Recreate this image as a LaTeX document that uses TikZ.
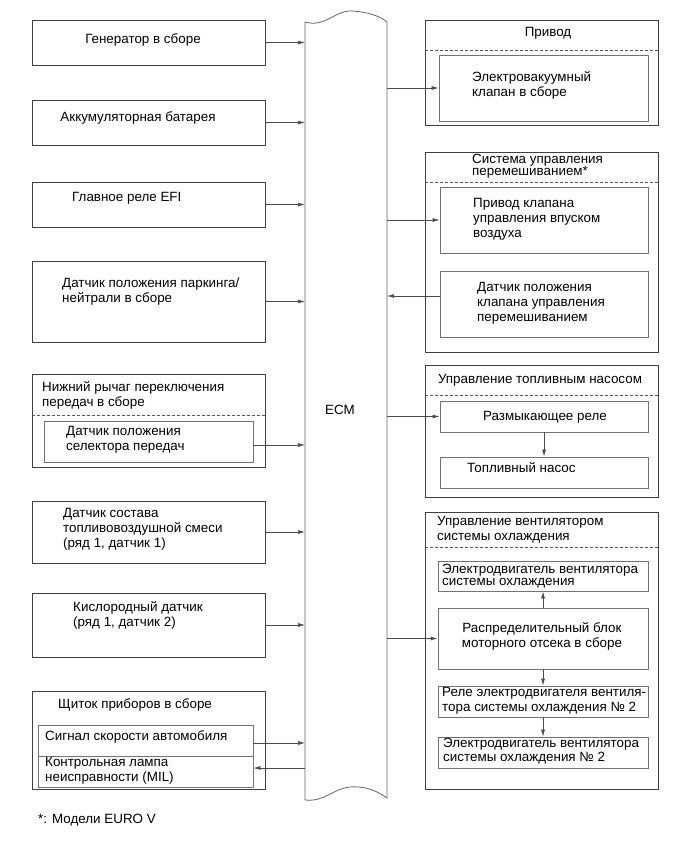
\documentclass[tikz,border=0pt]{standalone}
\usepackage{fontspec}
\setmainfont{Liberation Sans}
\usetikzlibrary{arrows.meta,positioning,fit}

\begin{document}
\begin{tikzpicture}[
    x=1pt, y=-1pt,
    every node/.style={font=\fontsize{13.4}{15}\selectfont},
    box/.style={draw=black!75, line width=0.7pt, inner sep=0pt},
    inbox/.style={draw=black!55, line width=0.7pt, inner sep=0pt},
    lbl/.style={align=left, anchor=west, inner sep=0pt},
    tight/.style={font=\fontsize{13.4}{12.5}\selectfont},
    sep/.style={draw=black!65, line width=0.7pt, dash pattern=on 3pt off 2pt},
    sig/.style={-{Latex[length=7pt,width=4pt]}, draw=black!70, line width=0.7pt},
    bar/.style={draw=black!60, line width=0.8pt}
  ]
  \useasboundingbox (0,0) rectangle (690,853);

  \draw[bar] (305,800) -- (305,22) .. controls (325,28) and (335,10) .. (352,11)
    .. controls (368,12) and (380,16) .. (387,22) -- (387,798)
    .. controls (375,789) and (362,786) .. (350,787)
    .. controls (332,789) and (325,802) .. (305,800);
  \coordinate (ecmL) at (305,400);
  \coordinate (ecmR) at (387,400);
  \node (ecm) at (340,410) {ECM};

  % inputs
  \node[box, fit={(32,20) (265,65)}] (gen) {};
  \node (genT) at (143,40) {Генератор в сборе};
  \node[box, fit={(32,100) (265,145)}] (akb) {};
  \node (akbT) at (138,118) {Аккумуляторная батарея};
  \node[box, fit={(32,182) (265,227)}] (efi) {};
  \node[lbl] (efiT) at (72,198) {Главное реле EFI};
  \node[box, fit={(32,261) (265,342)}] (pnp) {};
  \node[lbl] (pnpT) at (62,292) {Датчик положения паркинга/\\нейтрали в сборе};
  \node[box, fit={(32,374) (265,467)}] (lever) {};
  \node[lbl] (leverT) at (42,395) {Нижний рычаг переключения\\передач в сборе};
  \draw[sep] (lever.west |- 0,415) -- (lever.east |- 0,415);
  \node[inbox, fit={(44,421) (253,462)}] (sel) {};
  \node[lbl] (selT) at (66,440) {Датчик положения\\селектора передач};
  \node[box, fit={(32,501) (265,563)}] (afs) {};
  \node[lbl] (afsT) at (63,529) {Датчик состава\\топливовоздушной смеси\\(ряд 1, датчик 1)};
  \node[box, fit={(32,593) (265,657)}] (oxs) {};
  \node[lbl] (oxsT) at (73,615) {Кислородный датчик\\(ряд 1, датчик 2)};
  \node[box, fit={(32,691) (265,789)}] (comb) {};
  \node[lbl] (combT) at (58,705) {Щиток приборов в сборе};
  \node[inbox, fit={(38,725) (253,756)}] (spd) {};
  \node[lbl] (spdT) at (45,737) {Сигнал скорости автомобиля};
  \node[inbox, fit={(38,756) (253,787)}] (mil) {};
  \node[lbl] (milT) at (45,771) {Контрольная лампа\\неисправности (MIL)};
  \node[lbl] (note) at (38,820) {*: Модели EURO V};

  % outputs
  \node[box, fit={(425,20) (658,125)}] (act) {};
  \node (actT) at (548,33) {Привод};
  \draw[sep] (act.west |- 0,50) -- (act.east |- 0,50);
  \node[inbox, fit={(439,55) (648,121)}] (vsv) {};
  \node[lbl] (vsvT) at (472,85) {Электровакуумный\\клапан в сборе};
  \node[box, fit={(425,152) (658,352)}] (mix) {};
  \node[lbl, tight] (mixT) at (472,166) {Система управления\\перемешиванием*};
  \draw[sep] (mix.west |- 0,182) -- (mix.east |- 0,182);
  \node[inbox, fit={(440,187) (648,253)}] (acv) {};
  \node[lbl] (acvT) at (473,219) {Привод клапана\\управления впуском\\воздуха};
  \node[inbox, fit={(440,271) (648,337)}] (mps) {};
  \node[lbl] (mpsT) at (477,303) {Датчик положения\\клапана управления\\перемешиванием};
  \node[box, fit={(425,365) (658,497)}] (fuel) {};
  \node (fuelT) at (540,380) {Управление топливным насосом};
  \draw[sep] (fuel.west |- 0,395) -- (fuel.east |- 0,395);
  \node[inbox, fit={(440,401) (648,432)}] (cor) {};
  \node (corT) at (545,417) {Размыкающее реле};
  \node[inbox, fit={(440,457) (648,488)}] (fp) {};
  \node[lbl] (fpT) at (467,468) {Топливный насос};
  \node[box, fit={(425,512) (658,789)}] (fan) {};
  \node[lbl] (fanT) at (437,530) {Управление вентилятором\\системы охлаждения};
  \draw[sep] (fan.west |- 0,547) -- (fan.east |- 0,547);
  \node[inbox, fit={(438,561) (648,591)}] (fm1) {};
  \node[lbl, tight] (fm1T) at (442,576) {Электродвигатель вентилятора\\системы охлаждения};
  \node[inbox, fit={(438,608) (648,669)}] (ejb) {};
  \node[align=center] (ejbT) at (542,636) {Распределительный блок\\моторного отсека в сборе};
  \node[inbox, fit={(438,686) (648,717)}] (rly) {};
  \node[lbl] (rlyT) at (442,701) {Реле электродвигателя вентиля-\\тора системы охлаждения № 2};
  \node[inbox, fit={(438,737) (648,768)}] (fm2) {};
  \node[lbl, font=\fontsize{13.4}{14}\selectfont] (fm2T) at (443,751) {Электродвигатель вентилятора\\системы охлаждения № 2};

  \draw[sig] (gen.east) -- (gen.east -| ecmL);
  \draw[sig] (akb.east) -- (akb.east -| ecmL);
  \draw[sig] (efi.east) -- (efi.east -| ecmL);
  \draw[sig] (pnp.east) -- (pnp.east -| ecmL);
  \draw[sig] ([yshift=-3.5pt]sel.east) -- ([yshift=-3.5pt]sel.east -| ecmL);
  \draw[sig] (afs.east) -- (afs.east -| ecmL);
  \draw[sig] (oxs.east) -- (oxs.east -| ecmL);
  \draw[sig] ([yshift=-2.5pt]spd.east) -- ([yshift=-2.5pt]spd.east -| ecmL);
  \draw[sig] ([yshift=3.5pt]mil.east -| ecmL) -- ([yshift=3.5pt]mil.east);
  \draw[sig] (vsv.west -| ecmR) -- (vsv.west);
  \draw[sig] (acv.west -| ecmR) -- (acv.west);
  \draw[sig] ([yshift=8pt]mps.west) -- ([yshift=8pt]mps.west -| ecmR);
  \draw[sig] (cor.west -| ecmR) -- (cor.west);
  \draw[sig] (ejb.west -| ecmR) -- (ejb.west);
  \draw[sig] (cor.south) -- (fp.north);
  \draw[sig] (ejb.north) -- (fm1.south);
  \draw[sig] (ejb.south) -- (rly.north);
  \draw[sig] (rly.south) -- (fm2.north);
\end{tikzpicture}
\end{document}
